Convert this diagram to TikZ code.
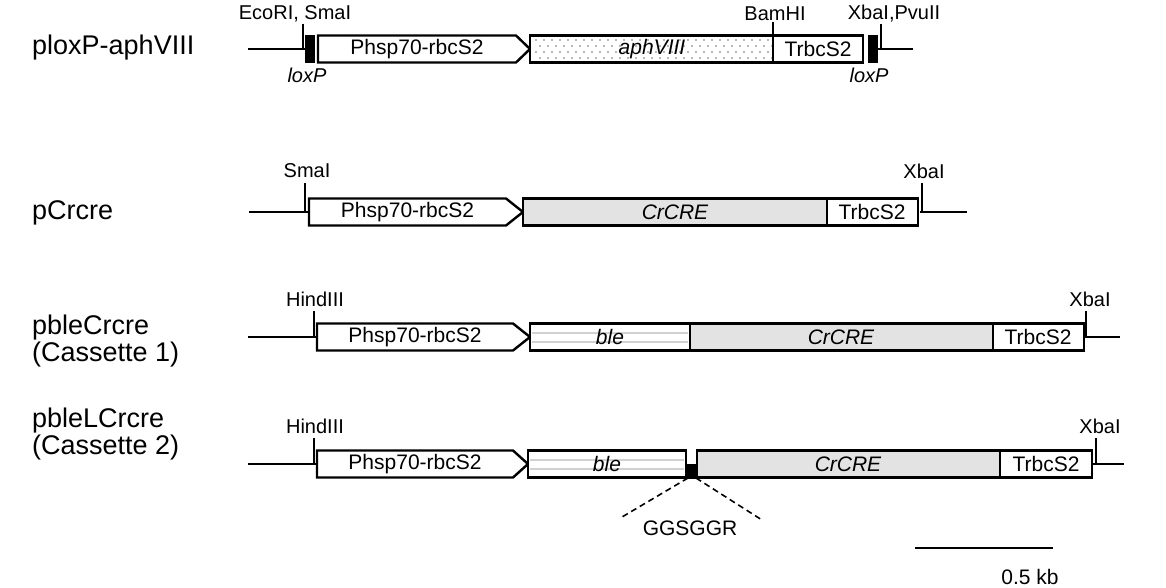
\documentclass[tikz,border=0pt]{standalone}
\usepackage{fontspec}
\setmainfont{Liberation Sans}
\newcommand\gpromo[5]{% name, left, rect end, tip, yc
  \draw[part,fill=white] (#2,#5-13.5) -- (#3,#5-13.5) -- (#4,#5) -- (#3,#5+13.5) -- (#2,#5+13.5) -- cycle;
  \node[lbl] (#1) at ({(#2+#3)/2},#5) {Phsp70-rbcS2};}
\begin{document}
\begin{tikzpicture}[x=1pt,y=-1pt,
  bb/.style={line width=2pt},
  part/.style={draw=black,line width=2.4pt,line join=miter},
  tk/.style={line width=1.6pt},
  lbl/.style={font=\fontsize{21}{25}\selectfont,inner sep=0pt},
  ilbl/.style={font=\fontsize{21}{25}\selectfont\itshape,inner sep=0pt},
  site/.style={font=\fontsize{20}{24}\selectfont,inner sep=0pt},
  rowlbl/.style={font=\fontsize{27}{25}\selectfont,align=left,anchor=west,inner sep=0pt},
  crefill/.style={fill=black!11},
  dashln/.style={line width=1.6pt,dash pattern=on 6pt off 4pt}]
\useasboundingbox (0,0) rectangle (1166,588);

% ---------- Row labels ----------
\node[rowlbl] (L1) at (32,48) {ploxP-aphVIII};
\node[rowlbl] (L2) at (32,213) {pCrcre};
\node[rowlbl] (L3) at (32,341) {pbleCrcre\\(Cassette 1)};
\node[rowlbl] (L4) at (32,434) {pbleLCrcre\\(Cassette 2)};

% ---------- Row 1 ----------
\coordinate (a1) at (248,49); \coordinate (a2) at (305,49);
\coordinate (a3) at (878,49); \coordinate (a4) at (913,49);
\draw[bb] (a1) -- (a2);
\draw[bb] (a3) -- (a4);
\coordinate (t1a) at (303,24); \coordinate (t1b) at (303,49);
\draw[tk] (t1a) -- (t1b);
\coordinate (t2a) at (773,22); \coordinate (t2b) at (773,36);
\draw[tk] (t2a) -- (t2b);
\coordinate (t3a) at (881,24); \coordinate (t3b) at (881,49);
\draw[tk] (t3a) -- (t3b);
\node[site] (s1) at (295,14) {EcoRI, SmaI};
\node[site] (s2) at (775,14) {BamHI};
\node[site] (s3) at (894,14) {XbaI,PvuII};
\fill (305,35) rectangle (315,63);
\fill (868,35) rectangle (878,63);
\node[site,font=\fontsize{20}{24}\selectfont\itshape] (lx1) at (307,75) {loxP};
\node[site,font=\fontsize{20}{24}\selectfont\itshape] (lx2) at (869,75) {loxP};
\gpromo{p1}{318}{516}{530}{49}
\fill[white] (530,35.5) rectangle (773,62.5);
\foreach \i in {0,...,29}{
  \foreach \j in {0,...,3}{
    \pgfmathsetmacro\xx{535+8*\i+4*mod(\j,2)}
    \pgfmathsetmacro\yy{39.5+6*\j}
    \fill[black!28] (\xx,\yy) rectangle ++(1.8,1.8);
  }}
\draw[part] (530,35.5) rectangle (773,62.5);
\node[ilbl] (g1) at (652,49) {aphVIII};
\draw[part,fill=white] (773,35.5) rectangle (863,62.5);
\node[lbl] (tr1) at (818,49) {TrbcS2};

% ---------- Row 2 ----------
\coordinate (b1) at (249,212); \coordinate (b2) at (309,212);
\coordinate (b3) at (920,212); \coordinate (b4) at (967,212);
\draw[bb] (b1) -- (b2);
\draw[bb] (b3) -- (b4);
\coordinate (u1a) at (305,183); \coordinate (u1b) at (305,212);
\draw[tk] (u1a) -- (u1b);
\coordinate (u2a) at (922,183); \coordinate (u2b) at (922,212);
\draw[tk] (u2a) -- (u2b);
\node[site] (s4) at (307,171) {SmaI};
\node[site] (s5) at (924,171) {XbaI};
\gpromo{p2}{309}{506}{523}{212}
\draw[part,crefill] (523,198.5) rectangle (827,225.5);
\node[ilbl] (g2) at (675,212) {CrCRE};
\draw[part,fill=white] (827,198.5) rectangle (918,225.5);
\node[lbl] (tr2) at (872,212) {TrbcS2};

% ---------- Row 3 ----------
\coordinate (c1) at (248,337); \coordinate (c2) at (317,337);
\coordinate (c3) at (1083,337); \coordinate (c4) at (1120,337);
\draw[bb] (c1) -- (c2);
\draw[bb] (c3) -- (c4);
\coordinate (v1a) at (314,311); \coordinate (v1b) at (314,337);
\draw[tk] (v1a) -- (v1b);
\coordinate (v2a) at (1086,311); \coordinate (v2b) at (1086,337);
\draw[tk] (v2a) -- (v2b);
\node[site] (s6) at (315,299) {HindIII};
\node[site] (s7) at (1090,299) {XbaI};
\gpromo{p3}{317}{513}{530}{337}
\draw[part,fill=white] (530,323.5) rectangle (690,350.5);
\draw[black!18,line width=2pt] (532,332.5) -- (688,332.5) (532,341.5) -- (688,341.5);
\draw[part] (530,323.5) rectangle (690,350.5);
\node[ilbl] (g3a) at (610,337) {ble};
\draw[part,crefill] (690,323.5) rectangle (993,350.5);
\node[ilbl] (g3b) at (841,337) {CrCRE};
\draw[part,fill=white] (993,323.5) rectangle (1084,350.5);
\node[lbl] (tr3) at (1038,337) {TrbcS2};

% ---------- Row 4 ----------
\coordinate (d1) at (248,464); \coordinate (d2) at (317,464);
\coordinate (d3) at (1092,464); \coordinate (d4) at (1124,464);
\draw[bb] (d1) -- (d2);
\draw[bb] (d3) -- (d4);
\coordinate (w1a) at (314,438); \coordinate (w1b) at (314,464);
\draw[tk] (w1a) -- (w1b);
\coordinate (w2a) at (1096,438); \coordinate (w2b) at (1096,464);
\draw[tk] (w2a) -- (w2b);
\node[site] (s8) at (315,426) {HindIII};
\node[site] (s9) at (1100,426) {XbaI};
\gpromo{p4}{317}{513}{528}{464}
\draw[part,fill=white] (528,450.5) rectangle (686,477.5);
\draw[black!18,line width=2pt] (530,459.5) -- (684,459.5) (530,468.5) -- (684,468.5);
\draw[part] (528,450.5) rectangle (686,477.5);
\node[ilbl] (g4a) at (607,464) {ble};
\fill (686,464) rectangle (697,478.5);
\draw[part,crefill] (697,450.5) rectangle (1000,477.5);
\node[ilbl] (g4b) at (848,464) {CrCRE};
\draw[part,fill=white] (1000,450.5) rectangle (1092,477.5);
\node[lbl] (tr4) at (1046,464) {TrbcS2};
\coordinate (k1) at (688,478); \coordinate (k2) at (622,517);
\coordinate (k3) at (696,478); \coordinate (k4) at (762,520);
\draw[dashln] (k1) -- (k2);
\draw[dashln] (k3) -- (k4);
\node[lbl] (lk) at (690,528) {GGSGGR};

% ---------- Scale bar ----------
\coordinate (sb1) at (915,548); \coordinate (sb2) at (1053,548);
\draw[line width=2pt] (sb1) -- (sb2);
\node[lbl] (sbl) at (1030,577) {0.5 kb};
\end{tikzpicture}
\end{document}
